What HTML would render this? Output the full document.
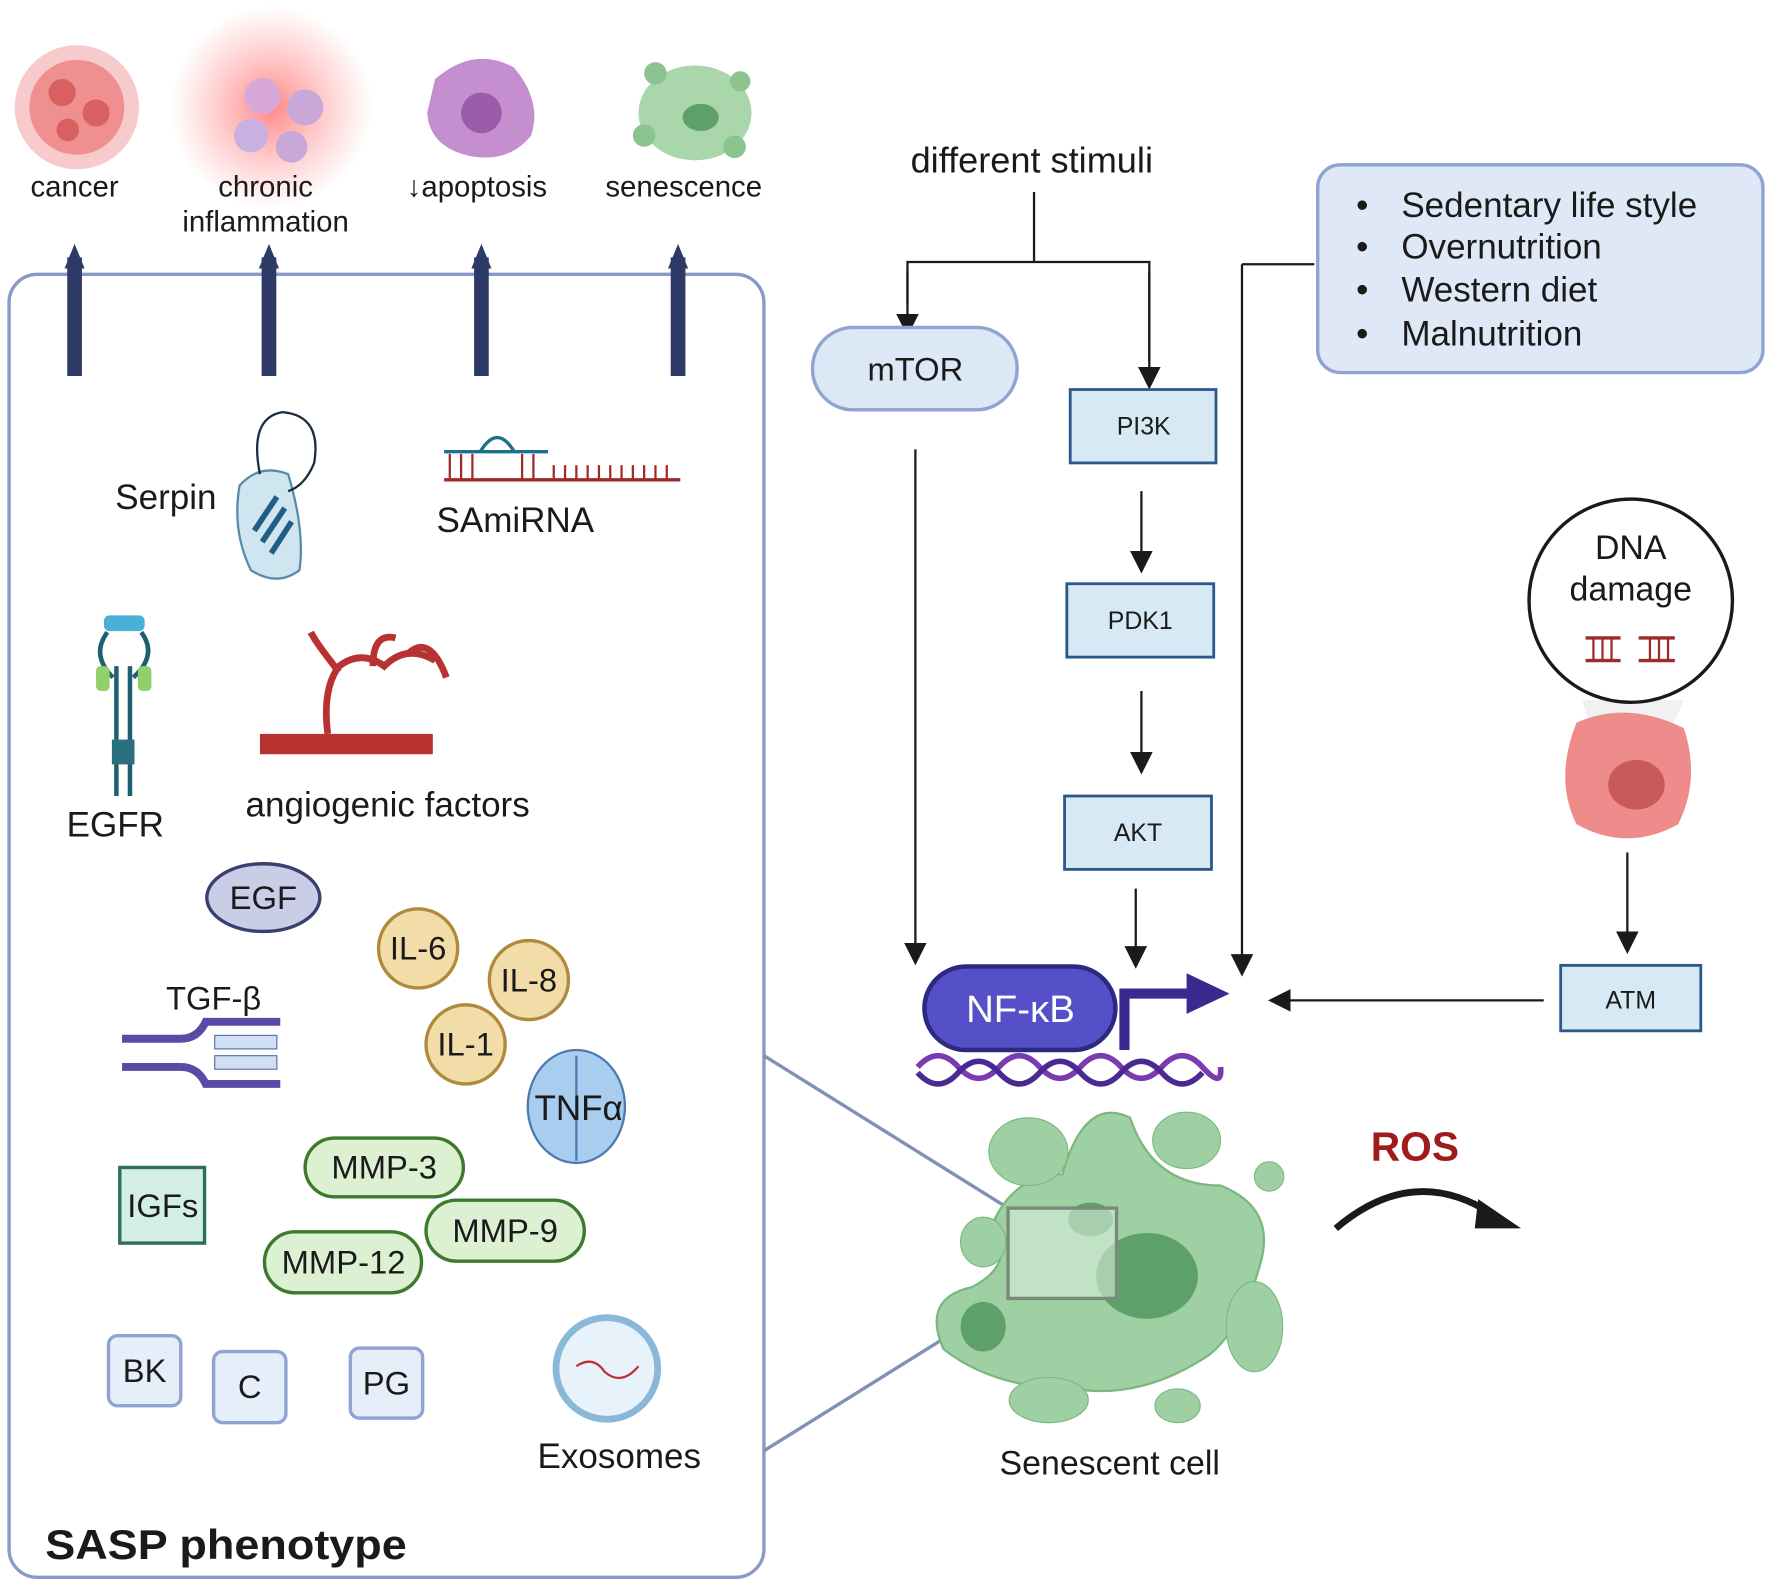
<!DOCTYPE html>
<html><head><meta charset="utf-8"><style>
html,body{margin:0;padding:0;background:#fff}
svg{display:block}
text{font-family:"Liberation Sans",sans-serif;fill:#1a1a1a}
</style></head><body>
<svg width="1772" height="1592" viewBox="0 0 1568 1410" preserveAspectRatio="none" xmlns="http://www.w3.org/2000/svg">
<defs>
<marker id="ahb" markerWidth="20" markerHeight="20" refX="10" refY="10" orient="auto" markerUnits="userSpaceOnUse"><path d="M0,0 L20,10 L0,20 z" fill="#1a1a1a"/></marker>
<marker id="an" markerWidth="22" markerHeight="22" refX="10" refY="11" orient="auto" markerUnits="userSpaceOnUse"><path d="M0,2 L22,11 L0,20 z" fill="#2d3a66"/></marker>
<radialGradient id="glow"><stop offset="0" stop-color="#ff6a6a" stop-opacity="0.8"/><stop offset="1" stop-color="#ff8a8a" stop-opacity="0"/></radialGradient>
</defs>

<!-- top icons -->
<circle cx="68" cy="95" r="55" fill="#f2a9a9" opacity="0.6"/>
<circle cx="68" cy="95" r="42" fill="#ef8f8f"/>
<circle cx="55" cy="82" r="12" fill="#d96060"/><circle cx="85" cy="100" r="12" fill="#d96060"/><circle cx="60" cy="115" r="10" fill="#d96060"/>
<circle cx="240" cy="95" r="90" fill="url(#glow)"/>
<circle cx="232" cy="85" r="16" fill="#d8a8d8"/><circle cx="270" cy="95" r="16" fill="#c8a8d8"/><circle cx="222" cy="120" r="15" fill="#c8b0e0"/><circle cx="258" cy="130" r="14" fill="#c8a8d8"/>
<path d="M385,70 Q420,40 455,60 Q480,90 470,120 Q450,145 415,138 Q380,130 378,100 Z" fill="#c58fcf"/>
<circle cx="426" cy="100" r="18" fill="#9a5ca8"/>
<ellipse cx="615" cy="100" rx="50" ry="42" fill="#a9d6ab"/>
<circle cx="580" cy="65" r="10" fill="#8cc490"/><circle cx="655" cy="72" r="9" fill="#8cc490"/><circle cx="570" cy="120" r="10" fill="#8cc490"/><circle cx="650" cy="130" r="10" fill="#8cc490"/>
<ellipse cx="620" cy="104" rx="16" ry="12" fill="#5ea06a"/>
<g font-size="26" text-anchor="middle">
<text x="66" y="174">cancer</text>
<text x="235" y="174">chronic</text>
<text x="235" y="205">inflammation</text>
<text x="422" y="174">↓apoptosis</text>
<text x="605" y="174">senescence</text>
</g>

<!-- left panel -->
<rect x="8" y="243" width="668" height="1154" rx="25" fill="none" stroke="#8a9ac8" stroke-width="3"/>
<g stroke="#2d3a66" stroke-width="13" marker-end="url(#an)">
<line x1="66" y1="333" x2="66" y2="228"/>
<line x1="238" y1="333" x2="238" y2="228"/>
<line x1="426" y1="333" x2="426" y2="228"/>
<line x1="600" y1="333" x2="600" y2="228"/>
</g>

<text x="102" y="451" font-size="31">Serpin</text>
<path d="M212,430 Q230,410 255,420 Q270,470 265,505 Q245,520 222,505 Q205,470 212,430Z" fill="#cfe5ef" stroke="#5a8aa8" stroke-width="2"/>
<path d="M230,420 Q220,370 250,365 Q285,368 278,410 Q270,430 255,435" fill="none" stroke="#1a2a40" stroke-width="2"/>
<g stroke="#1f5f86" stroke-width="5"><line x1="225" y1="470" x2="245" y2="440"/><line x1="232" y1="480" x2="252" y2="450"/><line x1="240" y1="490" x2="258" y2="462"/></g>
<g stroke="#1f6f8a" stroke-width="3"><line x1="393" y1="400" x2="485" y2="400"/></g>
<path d="M425,400 Q440,375 455,400" fill="none" stroke="#1f6f8a" stroke-width="3"/>
<line x1="393" y1="425" x2="602" y2="425" stroke="#a02a2a" stroke-width="3"/>
<g stroke="#a02a2a" stroke-width="2">
<line x1="398" y1="402" x2="398" y2="425"/><line x1="408" y1="402" x2="408" y2="425"/><line x1="418" y1="402" x2="418" y2="425"/><line x1="462" y1="402" x2="462" y2="425"/><line x1="472" y1="402" x2="472" y2="425"/>
<line x1="490" y1="412" x2="490" y2="425"/><line x1="500" y1="412" x2="500" y2="425"/><line x1="510" y1="412" x2="510" y2="425"/><line x1="520" y1="412" x2="520" y2="425"/><line x1="530" y1="412" x2="530" y2="425"/><line x1="540" y1="412" x2="540" y2="425"/><line x1="550" y1="412" x2="550" y2="425"/><line x1="560" y1="412" x2="560" y2="425"/><line x1="570" y1="412" x2="570" y2="425"/><line x1="580" y1="412" x2="580" y2="425"/><line x1="590" y1="412" x2="590" y2="425"/></g>
<text x="456" y="471" font-size="31" text-anchor="middle">SAmiRNA</text>

<!-- EGFR -->
<g stroke="#1f5f6f" stroke-width="4" fill="none">
<line x1="103" y1="590" x2="103" y2="705"/><line x1="115" y1="590" x2="115" y2="705"/>
<path d="M95,560 Q80,580 100,600"/><path d="M125,560 Q140,580 118,600"/></g>
<rect x="92" y="545" width="36" height="14" rx="5" fill="#4ab0d8"/>
<rect x="85" y="590" width="12" height="22" rx="4" fill="#8fd06a"/><rect x="122" y="590" width="12" height="22" rx="4" fill="#8fd06a"/>
<rect x="99" y="655" width="20" height="22" fill="#2a6f80"/>
<text x="102" y="741" font-size="31" text-anchor="middle">EGFR</text>
<rect x="230" y="650" width="153" height="18" fill="#b83232"/>
<g stroke="#b83232" stroke-width="6" fill="none">
<path d="M290,650 Q285,610 300,590 Q320,575 340,590 Q360,570 385,585"/>
<path d="M300,595 Q280,570 275,560"/><path d="M330,590 Q330,560 350,565"/><path d="M360,580 Q380,560 395,600"/></g>
<text x="343" y="723" font-size="31" text-anchor="middle">angiogenic factors</text>

<ellipse cx="233" cy="795" rx="50" ry="30" fill="#c9cde6" stroke="#3a3f70" stroke-width="3"/>
<text x="233" y="805" font-size="29" text-anchor="middle">EGF</text>
<text x="189" y="894" font-size="29" text-anchor="middle">TGF-β</text>
<path d="M108,920 L160,920 Q175,920 182,905 L248,905 M108,945 L160,945 Q175,945 182,960 L248,960" fill="none" stroke="#5a4aa8" stroke-width="7"/>
<rect x="190" y="917" width="55" height="12" fill="#cfe0f2" stroke="#5a6aa8"/><rect x="190" y="935" width="55" height="12" fill="#cfe0f2" stroke="#5a6aa8"/>

<g fill="#f2dca8" stroke="#b08a3a" stroke-width="3">
<circle cx="370" cy="840" r="35"/><circle cx="468" cy="868" r="35"/><circle cx="412" cy="925" r="35"/></g>
<g font-size="29" text-anchor="middle">
<text x="370" y="850">IL-6</text><text x="468" y="878">IL-8</text><text x="412" y="935">IL-1</text></g>
<ellipse cx="510" cy="980" rx="43" ry="50" fill="#a8cdee" stroke="#4a7ab0" stroke-width="2"/>
<line x1="510" y1="935" x2="510" y2="1028" stroke="#4a7ab0" stroke-width="2"/>
<text x="512" y="992" font-size="31" text-anchor="middle">TNFα</text>

<rect x="106" y="1034" width="75" height="67" fill="#d3eee5" stroke="#2d6e5c" stroke-width="3"/>
<text x="144" y="1078" font-size="29" text-anchor="middle">IGFs</text>
<g fill="#dcf0d2" stroke="#3d7a2e" stroke-width="3">
<rect x="270" y="1008" width="140" height="52" rx="26"/>
<rect x="377" y="1063" width="140" height="54" rx="27"/>
<rect x="234" y="1091" width="139" height="54" rx="27"/></g>
<g font-size="29" text-anchor="middle">
<text x="340" y="1044">MMP-3</text><text x="447" y="1100">MMP-9</text><text x="304" y="1128">MMP-12</text></g>
<g fill="#e6eefa" stroke="#8fa4d0" stroke-width="3">
<rect x="96" y="1183" width="64" height="62" rx="8"/><rect x="189" y="1197" width="64" height="63" rx="8"/><rect x="310" y="1194" width="64" height="62" rx="8"/></g>
<g font-size="29" text-anchor="middle">
<text x="128" y="1224">BK</text><text x="221" y="1238">C</text><text x="342" y="1235">PG</text></g>
<circle cx="537" cy="1212" r="45" fill="#e8f2fa" stroke="#8ab8d8" stroke-width="6"/>
<path d="M510,1210 Q525,1200 535,1215 Q550,1228 565,1210" fill="none" stroke="#c03030" stroke-width="2"/>
<text x="548" y="1300" font-size="31" text-anchor="middle">Exosomes</text>
<text x="40" y="1381" font-size="37" font-weight="bold" textLength="320" lengthAdjust="spacingAndGlyphs">SASP phenotype</text>

<!-- zoom lines -->
<line x1="676" y1="935" x2="892" y2="1070" stroke="#8090b8" stroke-width="3"/>
<line x1="676" y1="1285" x2="892" y2="1150" stroke="#8090b8" stroke-width="3"/>

<!-- pathway -->
<text x="913" y="153" font-size="32" text-anchor="middle">different stimuli</text>
<g stroke="#1a1a1a" stroke-width="2" fill="none">
<polyline points="915,170 915,232"/>
<polyline points="803,270 803,232 1017,232 1017,320" />
</g>
<line x1="803" y1="240" x2="803" y2="288" stroke="#1a1a1a" stroke-width="2" marker-end="url(#ahb)"/>
<line x1="1017" y1="240" x2="1017" y2="335" stroke="#1a1a1a" stroke-width="2" marker-end="url(#ahb)"/>
<rect x="719" y="290" width="181" height="73" rx="36" fill="#dde8f6" stroke="#8fa4d0" stroke-width="3"/>
<text x="810" y="337" font-size="29" text-anchor="middle">mTOR</text>
<g fill="#d7e9f5" stroke="#2b5a8a" stroke-width="2.5">
<rect x="947" y="345" width="129" height="65"/><rect x="944" y="517" width="130" height="65"/><rect x="942" y="705" width="130" height="65"/><rect x="1381" y="855" width="124" height="58"/></g>
<g font-size="22" text-anchor="middle">
<text x="1012" y="385">PI3K</text><text x="1009" y="557">PDK1</text><text x="1007" y="745">AKT</text><text x="1443" y="893">ATM</text></g>
<g stroke="#1a1a1a" stroke-width="2" marker-end="url(#ahb)">
<line x1="1010" y1="435" x2="1010" y2="498"/>
<line x1="1010" y1="612" x2="1010" y2="676"/>
<line x1="1005" y1="787" x2="1005" y2="848"/>
<line x1="810" y1="398" x2="810" y2="845"/>
<line x1="1099" y1="234" x2="1099" y2="855"/>
<line x1="1440" y1="755" x2="1440" y2="835"/>
<line x1="1366" y1="886" x2="1132" y2="886"/>
</g>
<line x1="1163" y1="234" x2="1099" y2="234" stroke="#1a1a1a" stroke-width="2"/>

<rect x="1166" y="146" width="394" height="184" rx="20" fill="#dfe8f6" stroke="#8fa4d0" stroke-width="3"/>
<g font-size="31">
<text x="1200" y="192">•</text><text x="1240" y="192">Sedentary life style</text>
<text x="1200" y="229">•</text><text x="1240" y="229">Overnutrition</text>
<text x="1200" y="267">•</text><text x="1240" y="267">Western diet</text>
<text x="1200" y="306">•</text><text x="1240" y="306">Malnutrition</text></g>

<!-- DNA damage -->
<path d="M1400,620 L1490,620 L1455,700 L1425,700 Z" fill="#e8e8e8" opacity="0.6"/>
<path d="M1395,640 Q1440,620 1490,645 Q1505,690 1485,730 Q1440,755 1395,730 Q1375,690 1395,640Z" fill="#ee8c8c"/>
<ellipse cx="1448" cy="695" rx="25" ry="22" fill="#c85a5a"/>
<circle cx="1443" cy="532" r="90" fill="#fff" stroke="#1a1a1a" stroke-width="3"/>
<text x="1443" y="495" font-size="30" text-anchor="middle">DNA</text>
<text x="1443" y="532" font-size="30" text-anchor="middle">damage</text>
<g stroke="#a02a2a" stroke-width="3"><line x1="1403" y1="565" x2="1482" y2="565"/><line x1="1403" y1="585" x2="1482" y2="585"/></g>
<g stroke="#a02a2a" stroke-width="2"><line x1="1410" y1="565" x2="1410" y2="585"/><line x1="1418" y1="565" x2="1418" y2="585"/><line x1="1426" y1="565" x2="1426" y2="585"/><line x1="1460" y1="565" x2="1460" y2="585"/><line x1="1468" y1="565" x2="1468" y2="585"/><line x1="1476" y1="565" x2="1476" y2="585"/></g>
<rect x="1434" y="555" width="16" height="40" fill="#fff"/>

<!-- NF-kB -->
<path d="M812,945 Q830,925 848,945 T884,945 T920,945 T956,945 T992,945 T1028,945 T1064,945 T1080,945" fill="none" stroke="#7a3ab0" stroke-width="5"/>
<path d="M812,950 Q830,970 848,950 T884,950 T920,950 T956,950 T992,950 T1028,950 T1064,950" fill="none" stroke="#4a2a90" stroke-width="5"/>
<polyline points="995,930 995,880 1055,880" fill="none" stroke="#3a2a90" stroke-width="9"/>
<path d="M1050,862 L1088,880 L1050,898 Z" fill="#3a2a90"/>
<rect x="818" y="856" width="169" height="74" rx="37" fill="#5650c8" stroke="#2b2a80" stroke-width="4"/>
<text x="903" y="905" font-size="34" text-anchor="middle" style="fill:#fff">NF-κB</text>

<!-- senescent cell -->
<path d="M940,1040 Q960,970 1000,990 Q1020,1050 1080,1050 Q1130,1070 1115,1120 Q1100,1175 1070,1200 Q1010,1240 950,1230 Q880,1230 835,1195 Q815,1150 860,1140 Q900,1120 880,1080 Q900,1040 940,1040Z" fill="#9fd0a4" stroke="#7ab880" stroke-width="2"/>
<ellipse cx="1015" cy="1130" rx="45" ry="38" fill="#5ea06a"/>
<ellipse cx="910" cy="1020" rx="35" ry="30" fill="#9fd0a4" stroke="#7ab880"/>
<ellipse cx="1050" cy="1010" rx="30" ry="25" fill="#9fd0a4" stroke="#7ab880"/>
<ellipse cx="1110" cy="1175" rx="25" ry="40" fill="#9fd0a4" stroke="#7ab880"/>
<ellipse cx="928" cy="1240" rx="35" ry="20" fill="#9fd0a4" stroke="#7ab880"/>
<ellipse cx="1042" cy="1245" rx="20" ry="15" fill="#9fd0a4" stroke="#7ab880"/>
<ellipse cx="870" cy="1100" rx="20" ry="22" fill="#9fd0a4" stroke="#7ab880"/>
<circle cx="1123" cy="1042" r="13" fill="#9fd0a4" stroke="#7ab880"/>
<ellipse cx="870" cy="1175" rx="20" ry="22" fill="#5ea06a"/>
<ellipse cx="965" cy="1080" rx="20" ry="15" fill="#5ea06a"/>
<rect x="892" y="1070" width="96" height="80" fill="#d8eedc" fill-opacity="0.6" stroke="#7a8a7a" stroke-width="3"/>
<text x="982" y="1306" font-size="30" text-anchor="middle">Senescent cell</text>

<text x="1252" y="1028" font-size="36" font-weight="bold" text-anchor="middle" style="fill:#a01c1c">ROS</text>
<path d="M1182,1088 Q1250,1030 1320,1075" fill="none" stroke="#1a1a1a" stroke-width="6"/>
<path d="M1308,1062 L1346,1088 L1305,1088 Z" fill="#1a1a1a"/>
</svg>
</body></html>
